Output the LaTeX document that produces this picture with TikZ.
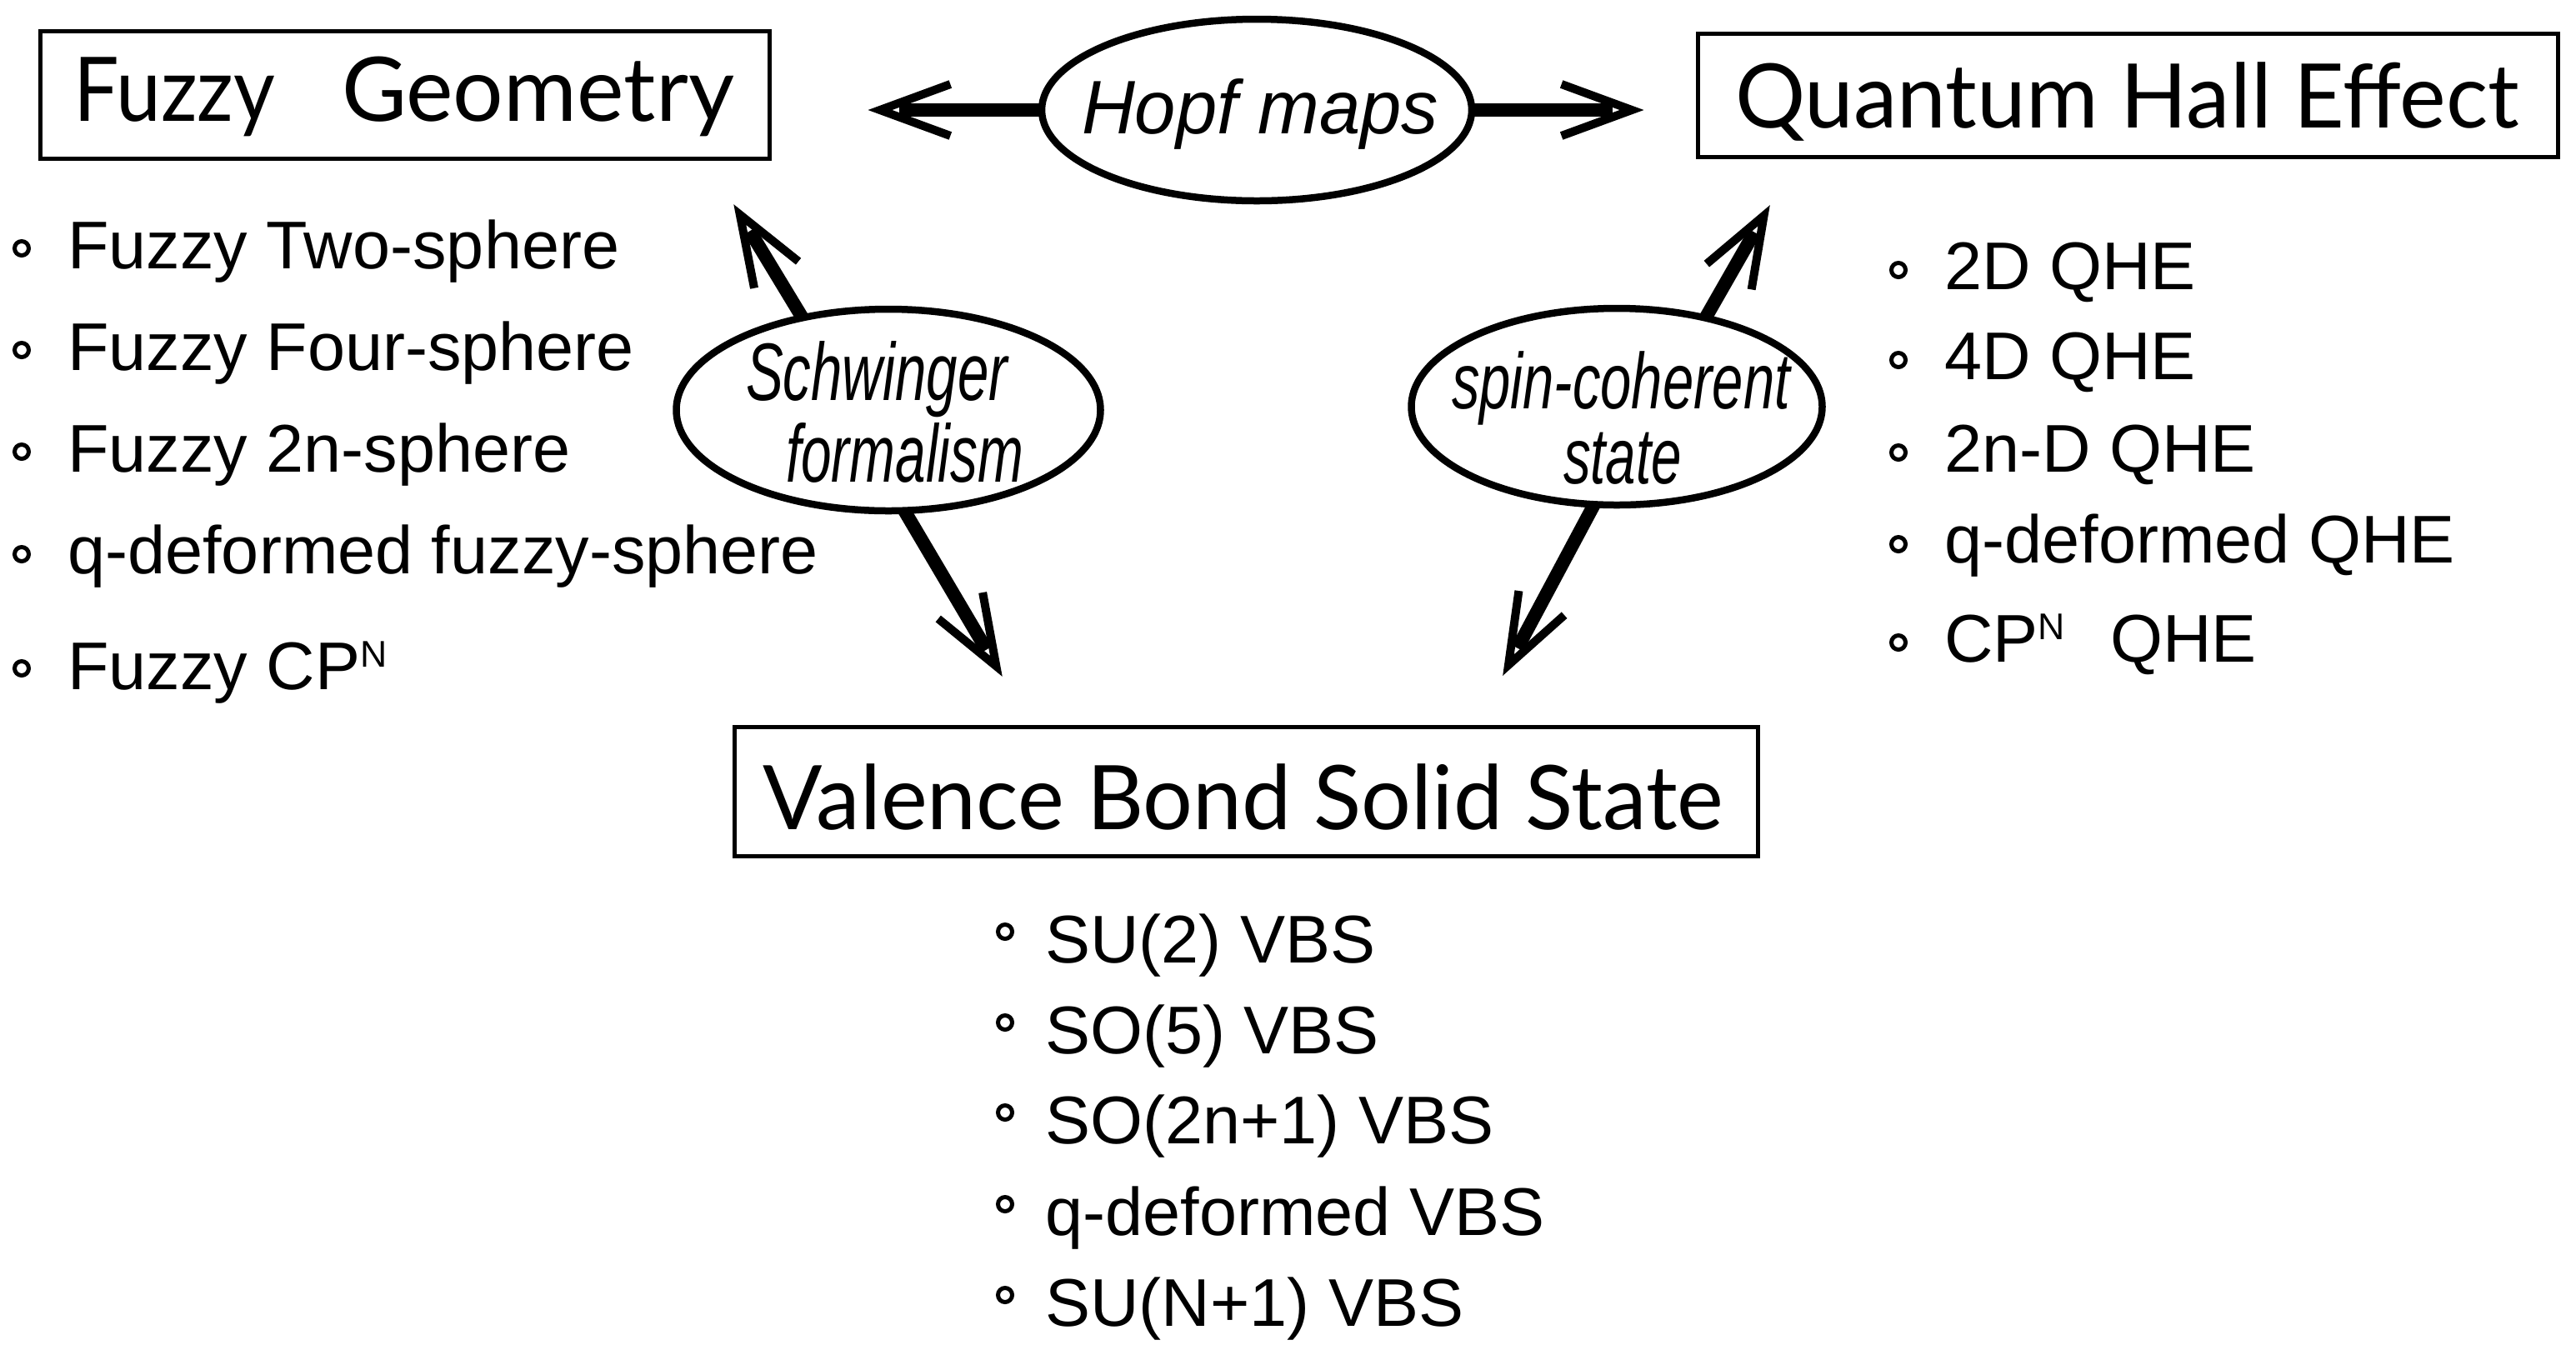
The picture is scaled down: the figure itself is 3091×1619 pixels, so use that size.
\documentclass[tikz,border=0pt]{standalone}
\usepackage{fontspec}
\setmainfont{Liberation Sans}
\newfontfamily\titlefont{Lato}
\usetikzlibrary{shapes.geometric,calc}
\newcommand\supN{\raisebox{0.322em}{\fontsize{22.3}{22}\selectfont N}}
\newcommand\barrow[2]{%
  \draw[shaft] (#1) -- ($(#2)!20pt!(#1)$);
  \draw[barb] ($(#2)!53pt!17:(#1)$) -- ($(#2)!8.5pt!(#1)$) -- ($(#2)!53pt!-17:(#1)$);}
\tikzset{
  titlebox/.style={draw, rectangle, line width=2.75pt, inner sep=0pt, outer sep=0pt},
  oval/.style={draw, ellipse, line width=4.25pt, inner sep=0pt, outer sep=0pt},
  titletext/.style={inner sep=0pt, anchor=base, font=\titlefont\fontsize{53.5}{60}\selectfont},
  ovaltext/.style={inner sep=0pt, anchor=base},
  item/.style={inner sep=0pt, anchor=base west, font=\fontsize{40.5}{48}\selectfont},
  dot/.style={circle, draw, line width=2.5pt, minimum size=8.5pt, inner sep=0pt},
  shaft/.style={line width=8pt},
  barb/.style={line width=5pt, line join=miter},
}
\begin{document}
\begin{tikzpicture}[x=0.5pt,y=-0.5pt]
\useasboundingbox (0,0) rectangle (3091,1619);

% title boxes
\node[titlebox, minimum width=437.5pt, minimum height=76.5pt] (fg) at (486,114) {};
\node[titlebox, minimum width=516pt, minimum height=74pt] (qhe) at (2553.5,114.5) {};
\node[titlebox, minimum width=614pt, minimum height=77.5pt] (vbs) at (1495.5,950) {};
\node[titletext] (fgt) at (484.5,145) {\resizebox{121pt}{\height}{Fuzzy}\hspace{40pt}\resizebox{235.5pt}{\height}{Geometry}};
\node[titletext] (qhet) at (2552.5,153) {\resizebox{470.5pt}{\height}{Quantum Hall Effect}};
\node[titletext] (vbst) at (1492,995) {\resizebox{576pt}{\height}{Valence Bond Solid State}};

% ellipses
\node[oval, minimum width=258pt, minimum height=109pt] (hopf) at (1508,132) {};
\node[oval, minimum width=254.5pt, minimum height=121pt] (schw) at (1066,492) {};
\node[oval, minimum width=246.5pt, minimum height=118pt] (spin) at (1940,488) {};
\node[ovaltext, font=\itshape\fontsize{45.5}{52}\selectfont] (hopft) at (1512,160) {\resizebox{214pt}{\height}{Hopf maps}};
\node[ovaltext, font=\itshape\fontsize{49}{56}\selectfont] (schwt1) at (1052,480) {\resizebox{157pt}{\height}{Schwinger}};
\node[ovaltext, font=\itshape\fontsize{49}{56}\selectfont] (schwt2) at (1085.5,578) {\resizebox{142.5pt}{\height}{formalism}};
\node[ovaltext, font=\itshape\fontsize{47.5}{56}\selectfont] (spint1) at (1945,490) {\resizebox{203pt}{\height}{spin-coherent}};
\node[ovaltext, font=\itshape\fontsize{47.5}{56}\selectfont] (spint2) at (1947,580) {\resizebox{71pt}{\height}{state}};

% arrow tips
\coordinate (tipfga) at (1039,132);
\coordinate (tipqa) at (1975,132);
\coordinate (tipfgb) at (879,243);
\coordinate (tipva) at (1204,814);
\coordinate (tipqb) at (2125,244);
\coordinate (tipvb) at (1802,813);

\barrow{hopf.west}{tipfga}
\barrow{hopf.east}{tipqa}
\barrow{schw.133}{tipfgb}
\barrow{schw.279}{tipva}
\barrow{spin.45}{tipqb}
\barrow{spin.257}{tipvb}

% Fuzzy list
\node[item] (f1) at (81,322) {Fuzzy Two-sphere};
\node[item] (f2) at (81,444) {Fuzzy Four-sphere};
\node[item] (f3) at (81,566) {Fuzzy 2n-sphere};
\node[item] (f4) at (81,688) {q-deformed fuzzy-sphere};
\node[item] (f5) at (81,827) {Fuzzy CP\supN};
\node[dot] (fd1) at (26,298) {};
\node[dot] (fd2) at (26,420) {};
\node[dot] (fd3) at (26,542) {};
\node[dot] (fd4) at (26,665) {};
\node[dot] (fd5) at (26,802) {};

% QHE list
\node[item] (q1) at (2333,347) {2D QHE};
\node[item] (q2) at (2333,455) {4D QHE};
\node[item] (q3) at (2333,566) {2n-D QHE};
\node[item] (q4) at (2333,675) {q-deformed QHE};
\node[item] (q5) at (2333,794) {CP\supN\hspace{27pt}QHE};
\node[dot] (qd1) at (2278,324) {};
\node[dot] (qd2) at (2278,432) {};
\node[dot] (qd3) at (2278,543) {};
\node[dot] (qd4) at (2278,653) {};
\node[dot] (qd5) at (2278,771) {};

% VBS list
\node[item] (v1) at (1254,1155) {SU(2) VBS};
\node[item] (v2) at (1254,1264) {SO(5) VBS};
\node[item] (v3) at (1254,1372) {SO(2n+1) VBS};
\node[item] (v4) at (1254,1482) {q-deformed VBS};
\node[item] (v5) at (1254,1591) {SU(N+1) VBS};
\node[dot] (vd1) at (1206,1118) {};
\node[dot] (vd2) at (1206,1227) {};
\node[dot] (vd3) at (1206,1335) {};
\node[dot] (vd4) at (1206,1445) {};
\node[dot] (vd5) at (1206,1554) {};
\end{tikzpicture}
\end{document}
